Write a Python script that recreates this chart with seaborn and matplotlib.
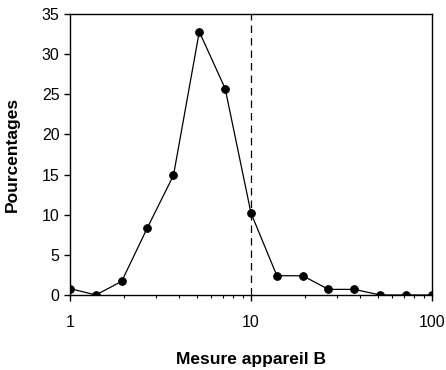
import matplotlib
matplotlib.use("Agg")
import matplotlib.pyplot as plt
import matplotlib.ticker as mticker
import seaborn as sns
import pandas as pd

# values
mesure = [1, 1.389, 1.93, 2.68, 3.73, 5.18, 7.2, 10, 13.9, 19.3, 26.8, 37.3, 51.8, 72, 100]
pourcentages = [0.8, 0.0, 1.7, 8.4, 14.9, 32.8, 25.7, 10.2, 2.4, 2.4, 0.7, 0.7, 0.0, 0.0, 0.0]
seuil = 10

df = pd.DataFrame({"mesure": mesure, "pct": pourcentages})

sns.set_style("ticks")
plt.rcParams['font.family'] = ['Liberation Sans', 'DejaVu Sans']

fig = plt.figure(figsize=(4.46, 3.70), dpi=100)
ax = fig.add_axes([70 / 446, 1 - 295 / 370, 362 / 446, 281 / 370])

sns.lineplot(data=df, x="mesure", y="pct", ax=ax, color="black", linewidth=0.9,
             marker="o", markersize=5.5, markeredgecolor="black", zorder=3)
ax.axvline(seuil, color="black", linestyle=(0, (6, 4)), linewidth=0.9, zorder=2)

ax.set_xscale("log")
ax.set_xlim(1, 100)
ax.set_ylim(0, 35)
ax.set_yticks(range(0, 36, 5))
ax.xaxis.set_major_formatter(mticker.FuncFormatter(lambda v, p: f"{v:g}"))
ax.xaxis.set_minor_locator(mticker.LogLocator(base=10, subs=range(2, 10)))
ax.xaxis.set_minor_formatter(mticker.NullFormatter())

for s in ax.spines.values():
    s.set_color("black")
    s.set_linewidth(1.0)
ax.tick_params(axis="both", which="major", direction="out", length=4.5, width=1,
               colors="black", labelsize=11.5)
ax.tick_params(axis="x", which="minor", direction="out", length=2.5, width=0.8, colors="black")
ax.tick_params(axis="x", which="major", pad=10)
ax.tick_params(axis="y", which="major", pad=3)

ax.set_xlabel("Mesure appareil B", fontsize=12.5, fontweight="bold", labelpad=16, color="black")
ax.set_ylabel("Pourcentages", fontsize=12.5, fontweight="bold", labelpad=16, color="black")

fig.savefig("out.png", dpi=100)
